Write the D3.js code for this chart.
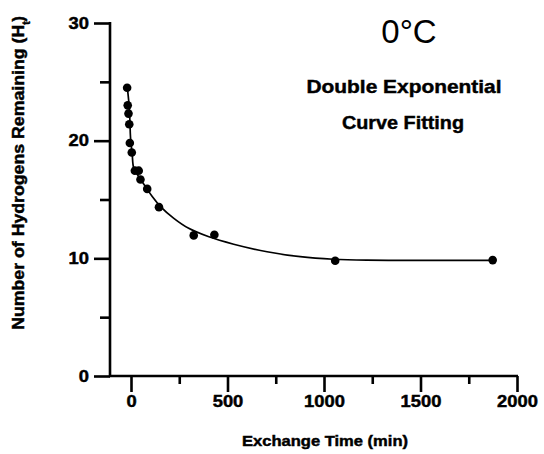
<!DOCTYPE html>
<html>
<head>
<meta charset="utf-8">
<script src="https://cdn.jsdelivr.net/npm/d3@7/dist/d3.min.js"></script>
<style>
  html, body { margin: 0; padding: 0; background: #fff; }
  svg { display: block; }
  text { font-family: "Liberation Sans", Arial, Helvetica, sans-serif; fill: #000; }
  .heavy { font-weight: bold; stroke: #000; stroke-width: 0.45px; }
</style>
</head>
<body>
<svg id="chart" width="544" height="454"></svg>
<script>
// ---- data ----
const exchangeTime = [-20, -17, -13, -9, -6, 4, 20, 40, 49, 84, 145, 325, 432, 1058, 1874];
const hydrogensRemaining = [24.5, 23.0, 22.3, 21.4, 19.8, 19.0, 17.45, 17.45, 16.7, 15.9, 14.35, 11.95, 12.0, 9.8, 9.85];

// fitted curve
const curveTime = [-20, -11, -6, -2.6, 6, 14.5, 40, 75, 110, 153, 222, 299, 400, 532, 705, 877, 1048, 1222, 1565, 1886];
const curveValue = [24.65, 23.2, 21.8, 20.3, 18.9, 17.65, 16.95, 16.1, 15.25, 14.4, 13.4, 12.55, 11.85, 11.2, 10.56, 10.14, 9.92, 9.84, 9.83, 9.83];

const xMajorTicks = [0, 500, 1000, 1500, 2000];
const xMinorTicks = [250, 750, 1250, 1750];
const yMajorTicks = [0, 10, 20, 30];
const yMinorTicks = [5, 15, 25];

const titleText = "0°C";
const subtitleLines = ["Double Exponential", "Curve Fitting"];
const xTitle = "Exchange Time (min)";

// ---- layout ----
const svg = d3.select("#chart");
const x = d3.scaleLinear().domain([0, 2000]).range([131, 517]);
const y = d3.scaleLinear().domain([0, 30]).range([376, 23]);
const axisLeftX = 110;
const axisBottomY = 376;
const axisStroke = 2.6;

// axis lines
svg.append("line")
  .attr("x1", axisLeftX).attr("x2", axisLeftX)
  .attr("y1", y(30) - 1).attr("y2", axisBottomY + 1)
  .attr("stroke", "#000").attr("stroke-width", axisStroke);
svg.append("line")
  .attr("x1", axisLeftX - 1).attr("x2", x(2000) + 1)
  .attr("y1", axisBottomY).attr("y2", axisBottomY)
  .attr("stroke", "#000").attr("stroke-width", axisStroke);

function styleAxis(g) {
  g.select(".domain").remove();
  g.selectAll(".tick line").attr("stroke", "#000").attr("stroke-width", axisStroke);
  g.selectAll(".tick text")
    .attr("class", "heavy")
    .style("font-family", '"Liberation Sans", Arial, sans-serif')
    .style("font-size", "16px")
    .attr("fill", "#000")
    .each(function() {
      const t = d3.select(this);
      t.attr("textLength", t.text().length * 10.2).attr("lengthAdjust", "spacingAndGlyphs");
    });
}

// x axis major
svg.append("g")
  .attr("transform", `translate(0,${axisBottomY})`)
  .call(d3.axisBottom(x).tickValues(xMajorTicks).tickSize(16).tickPadding(4).tickSizeOuter(0).tickFormat(d3.format("d")))
  .call(styleAxis);
// x axis minor
svg.append("g")
  .attr("transform", `translate(0,${axisBottomY})`)
  .call(d3.axisBottom(x).tickValues(xMinorTicks).tickSize(8).tickFormat(""))
  .call(styleAxis);

// y axis major
svg.append("g")
  .attr("transform", `translate(${axisLeftX},0)`)
  .call(d3.axisLeft(y).tickValues(yMajorTicks).tickSize(16).tickPadding(5).tickSizeOuter(0).tickFormat(d3.format("d")))
  .call(styleAxis);
// y axis minor
svg.append("g")
  .attr("transform", `translate(${axisLeftX},0)`)
  .call(d3.axisLeft(y).tickValues(yMinorTicks).tickSize(10).tickFormat(""))
  .call(styleAxis);

// fitted curve
const curveData = curveTime.map((t, i) => [t, curveValue[i]]);
svg.append("path")
  .datum(curveData)
  .attr("fill", "none")
  .attr("stroke", "#000")
  .attr("stroke-width", 1.7)
  .attr("d", d3.line().x(d => x(d[0])).y(d => y(d[1])).curve(d3.curveCatmullRom.alpha(0.5)));

// data points
svg.append("g").selectAll("circle")
  .data(exchangeTime.map((t, i) => [t, hydrogensRemaining[i]]))
  .join("circle")
  .attr("cx", d => x(d[0]))
  .attr("cy", d => y(d[1]))
  .attr("r", 4.3)
  .attr("fill", "#000");

// titles
svg.append("text")
  .attr("x", 409).attr("y", 43)
  .attr("text-anchor", "middle")
  .style("font-size", "33px")
  .text(titleText);

svg.append("text")
  .attr("class", "heavy")
  .attr("x", 404).attr("y", 93)
  .attr("text-anchor", "middle")
  .style("font-size", "19px")
  .attr("textLength", 195).attr("lengthAdjust", "spacingAndGlyphs")
  .text(subtitleLines[0]);
svg.append("text")
  .attr("class", "heavy")
  .attr("x", 403).attr("y", 129)
  .attr("text-anchor", "middle")
  .style("font-size", "19px")
  .attr("textLength", 122).attr("lengthAdjust", "spacingAndGlyphs")
  .text(subtitleLines[1]);

// x axis title
svg.append("text")
  .attr("class", "heavy")
  .attr("x", 325).attr("y", 446)
  .attr("text-anchor", "middle")
  .style("font-size", "14.5px")
  .attr("textLength", 166).attr("lengthAdjust", "spacingAndGlyphs")
  .text(xTitle);

// y axis title (rotated) with subscript
const yt = svg.append("text")
  .attr("class", "heavy")
  .attr("transform", "translate(24,173) rotate(-90)")
  .attr("text-anchor", "middle")
  .style("font-size", "16px");
yt.append("tspan").attr("textLength", 305).attr("lengthAdjust", "spacingAndGlyphs").text("Number of Hydrogens Remaining (H");
yt.append("tspan").attr("baseline-shift", "sub").style("font-size", "10px").text("t");
yt.append("tspan").text(")");
</script>
</body>
</html>
